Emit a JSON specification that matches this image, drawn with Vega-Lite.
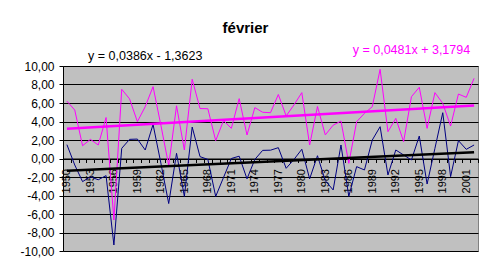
{
  "$schema": "https://vega.github.io/schema/vega-lite/v6.json",
  "width": 415,
  "height": 185,
  "autosize": {"type": "none"},
  "padding": {"left": 63, "top": 66, "right": 15, "bottom": 26},
  "background": "white",
  "title": {"text": "février", "fontSize": 15, "fontWeight": "bold", "font": "Liberation Sans", "color": "black", "anchor": "middle", "frame": "group", "dx": -25, "offset": 8},
  "config": {
    "view": {"fill": "#C0C0C0", "stroke": "#808080", "strokeWidth": 1},
    "axis": {"labelFont": "Liberation Sans", "labelColor": "black", "titleFont": "Liberation Sans"}
  },
  "datasets": {
    "series": [
      {"year": 1950, "haut": 6.2, "bas": 1.5},
      {"year": 1951, "haut": 5.24, "bas": -0.7},
      {"year": 1952, "haut": 1.38, "bas": -2.5},
      {"year": 1953, "haut": 2.07, "bas": -1.97},
      {"year": 1954, "haut": 1.46, "bas": -2.3},
      {"year": 1955, "haut": 4.43, "bas": -1.85},
      {"year": 1956, "haut": -6.65, "bas": -9.35},
      {"year": 1957, "haut": 7.48, "bas": 1.1},
      {"year": 1958, "haut": 6.45, "bas": 2.07},
      {"year": 1959, "haut": 3.98, "bas": 2.1},
      {"year": 1960, "haut": 5.6, "bas": 0.92},
      {"year": 1961, "haut": 7.77, "bas": 3.68},
      {"year": 1962, "haut": 3.6, "bas": -0.5},
      {"year": 1963, "haut": -0.75, "bas": -4.87},
      {"year": 1964, "haut": 5.7, "bas": 0.56},
      {"year": 1965, "haut": 0.92, "bas": -4.1},
      {"year": 1966, "haut": 8.56, "bas": 3.4},
      {"year": 1967, "haut": 5.4, "bas": 0.2},
      {"year": 1968, "haut": 5.38, "bas": -0.1},
      {"year": 1969, "haut": 1.93, "bas": -4.1},
      {"year": 1970, "haut": 4.1, "bas": -2.05},
      {"year": 1971, "haut": 3.26, "bas": 0.0},
      {"year": 1972, "haut": 6.47, "bas": 0.25},
      {"year": 1973, "haut": 2.54, "bas": -2.2},
      {"year": 1974, "haut": 5.5, "bas": -0.1},
      {"year": 1975, "haut": 5.0, "bas": 0.88},
      {"year": 1976, "haut": 4.95, "bas": 0.9},
      {"year": 1977, "haut": 6.92, "bas": 1.17},
      {"year": 1978, "haut": 4.6, "bas": -1.06},
      {"year": 1979, "haut": 5.8, "bas": -0.1},
      {"year": 1980, "haut": 7.12, "bas": 1.0},
      {"year": 1981, "haut": 1.46, "bas": -2.2},
      {"year": 1982, "haut": 5.62, "bas": 0.3},
      {"year": 1983, "haut": 2.55, "bas": -2.4},
      {"year": 1984, "haut": 3.6, "bas": -3.4},
      {"year": 1985, "haut": 4.05, "bas": 1.46},
      {"year": 1986, "haut": -0.52, "bas": -4.1},
      {"year": 1987, "haut": 3.98, "bas": -0.88},
      {"year": 1988, "haut": 4.88, "bas": -1.24},
      {"year": 1989, "haut": 5.6, "bas": 2.0},
      {"year": 1990, "haut": 9.64, "bas": 3.44},
      {"year": 1991, "haut": 2.9, "bas": -1.78},
      {"year": 1992, "haut": 4.34, "bas": 0.92},
      {"year": 1993, "haut": 1.82, "bas": 0.38},
      {"year": 1994, "haut": 6.68, "bas": -0.16},
      {"year": 1995, "haut": 7.7, "bas": 2.43},
      {"year": 1996, "haut": 3.26, "bas": -2.76},
      {"year": 1997, "haut": 7.12, "bas": 1.1},
      {"year": 1998, "haut": 5.96, "bas": 4.95},
      {"year": 1999, "haut": 3.51, "bas": -1.96},
      {"year": 2000, "haut": 6.97, "bas": 1.93},
      {"year": 2001, "haut": 6.61, "bas": 0.99},
      {"year": 2002, "haut": 8.67, "bas": 1.46}
    ],
    "trends": [
      {"year": 1950, "serie": "tendance haut", "value": 3.2275},
      {"year": 2002, "serie": "tendance haut", "value": 5.7287},
      {"year": 1950, "serie": "tendance bas", "value": -1.3237},
      {"year": 2002, "serie": "tendance bas", "value": 0.6835}
    ],
    "equations": [
      {"year": 1960, "value": 11.03, "serie": "tendance bas", "label": "y = 0,0386x - 1,3623"},
      {"year": 1994, "value": 11.73, "serie": "tendance haut", "label": "y = 0,0481x + 3,1794"}
    ]
  },
  "encoding": {
    "x": {
      "field": "year",
      "type": "ordinal",
      "scale": {"type": "band", "paddingInner": 0, "paddingOuter": 0},
      "axis": {
        "title": null,
        "orient": "bottom",
        "offset": -92.5,
        "domainColor": "black",
        "domainWidth": 1,
        "tickColor": "black",
        "tickSize": 4,
        "tickBand": "extent",
        "grid": false,
        "labelAngle": 270,
        "labelAlign": "right",
        "labelBaseline": "middle",
        "labelPadding": 6,
        "labelFontSize": 11,
        "labelOverlap": false,
        "labelExpr": "(toNumber(datum.value) - 1950) % 3 === 0 ? datum.label : ''"
      }
    },
    "y": {
      "type": "quantitative",
      "scale": {"domain": [-10, 10], "nice": false, "zero": false},
      "axis": {
        "title": null,
        "values": [-10, -8, -6, -4, -2, 0, 2, 4, 6, 8, 10],
        "grid": true,
        "gridColor": "black",
        "gridOpacity": 1,
        "gridWidth": 1,
        "domainColor": "black",
        "tickColor": "black",
        "tickSize": 4,
        "labelFontSize": 12,
        "labelPadding": 5,
        "labelExpr": "replace(replace(format(datum.value, '.2f'), '.', ','), '\u2212', '-')"
      }
    },
    "color": {
      "field": "serie",
      "type": "nominal",
      "scale": {"domain": ["haut", "bas", "tendance haut", "tendance bas"], "range": ["#FF00FF", "#000080", "#FF00FF", "#000000"]},
      "legend": null
    }
  },
  "layer": [
    {
      "data": {"name": "series"},
      "transform": [{"fold": ["haut", "bas"], "as": ["serie", "value"]}],
      "mark": {"type": "line", "strokeWidth": 1, "clip": true},
      "encoding": {"y": {"field": "value", "type": "quantitative"}}
    },
    {
      "data": {"name": "trends"},
      "mark": {"type": "line", "strokeWidth": 2.5},
      "encoding": {"y": {"field": "value", "type": "quantitative"}}
    },
    {
      "data": {"name": "equations"},
      "mark": {"type": "text", "font": "Liberation Sans", "fontSize": 12.5, "align": "center", "baseline": "middle"},
      "encoding": {"y": {"field": "value", "type": "quantitative"}, "text": {"field": "label"}}
    }
  ]
}
